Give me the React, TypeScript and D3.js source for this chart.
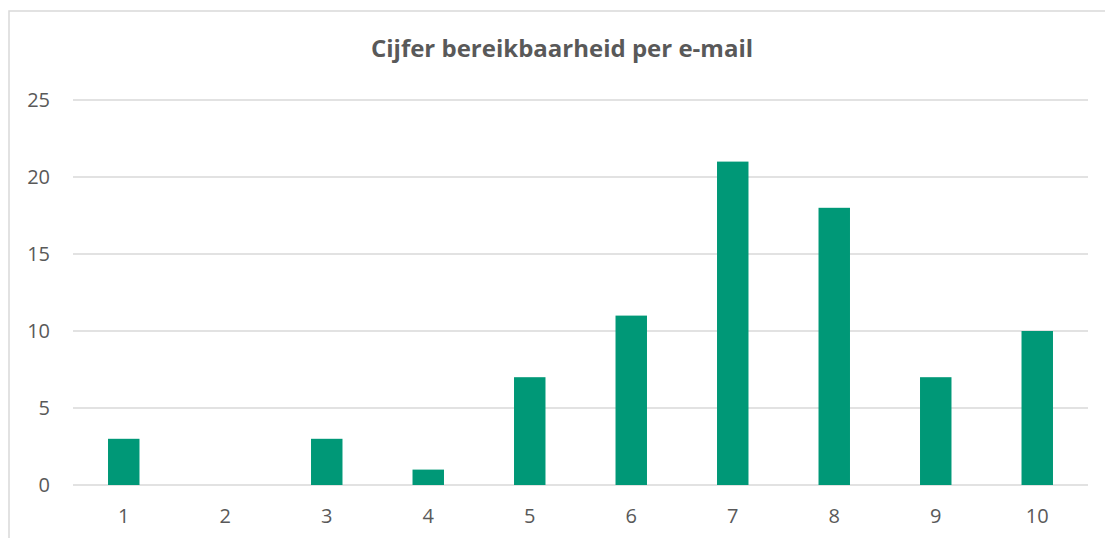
import React from "react";
import * as d3 from "d3";

const categories = ["1", "2", "3", "4", "5", "6", "7", "8", "9", "10"];
const values = [3, 0, 3, 1, 7, 11, 21, 18, 7, 10];
const yTicks = [0, 5, 10, 15, 20, 25];
const title = "Cijfer bereikbaarheid per e-mail";

export default function App() {
  const W = 1105, H = 538;
  const left = 73, right = 1088, top = 100, bottom = 485;
  const x = d3.scaleBand().domain(categories).range([left, right]).paddingInner(0.69).paddingOuter(0.345);
  const y = d3.scaleLinear().domain([0, 25]).range([bottom, top]);
  const font = "'Open Sans', sans-serif";
  const grey = "#595959";
  return (
    <div style={{ position: "absolute", left: 0, top: 0 }}>
      <svg width={W} height={H} style={{ display: "block", background: "#fff" }}>
        <rect x={9} y={11} width={1300} height={1000} fill="#fff" stroke="#d9d9d9" strokeWidth={1.5} />
        <text x={562} y={57} textAnchor="middle" fontFamily={font} fontWeight={700} fontSize={24} fill={grey}>
          {title}
        </text>
        {yTicks.map((t) => (
          <g key={t}>
            <line x1={left} x2={right} y1={y(t)} y2={y(t)} stroke="#d9d9d9" strokeWidth={1.3} />
            <text x={50} y={y(t) + 7} textAnchor="end" fontFamily={font} fontSize={20} fill={grey}>
              {t}
            </text>
          </g>
        ))}
        {categories.map((c, i) => (
          <g key={c}>
            {values[i] > 0 && (
              <rect x={x(c)} y={y(values[i])} width={x.bandwidth()} height={y(0) - y(values[i])} fill="#009877" />
            )}
            <text x={(x(c) as number) + x.bandwidth() / 2} y={523} textAnchor="middle" fontFamily={font} fontSize={20} fill={grey}>
              {c}
            </text>
          </g>
        ))}
      </svg>
    </div>
  );
}
